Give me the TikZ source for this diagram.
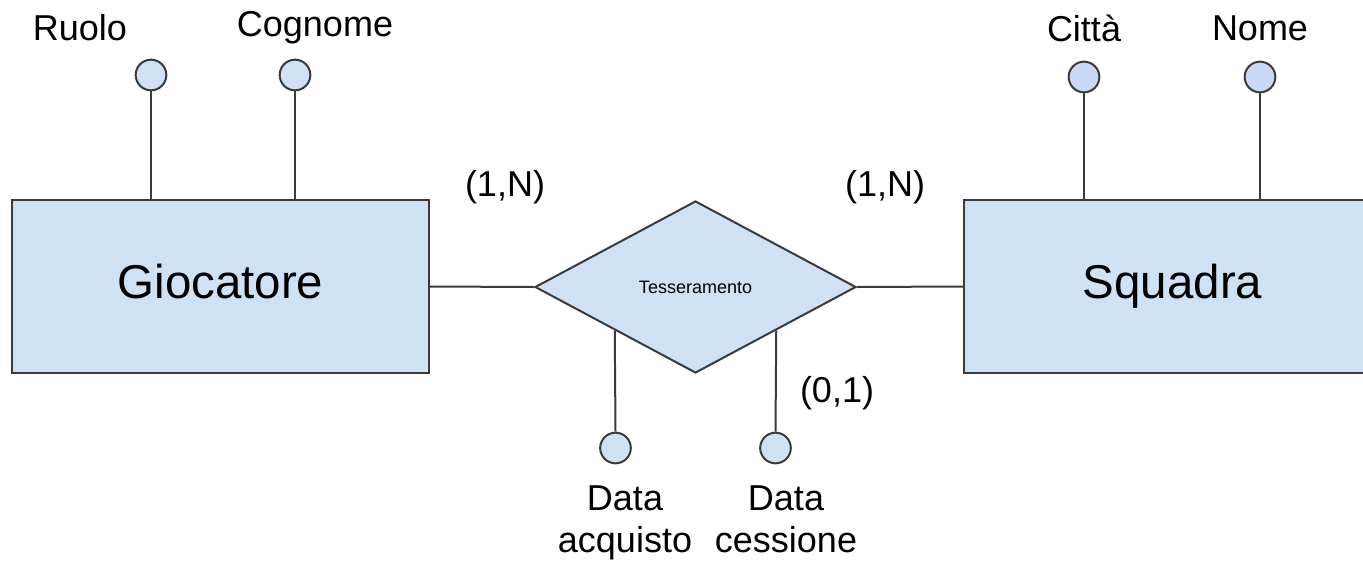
\documentclass[tikz,border=0pt]{standalone}
\usepackage{fontspec}
\setmainfont{Liberation Sans}
\usetikzlibrary{shapes.geometric}
\definecolor{erfill}{HTML}{CFE2F3}
\definecolor{erfillb}{HTML}{C9DAF8}
\definecolor{erline}{HTML}{3A3A3A}
\begin{document}
\begin{tikzpicture}[x=0.75pt,y=-0.75pt,
  entity/.style={draw=erline,line width=1.5pt,fill=erfill,minimum width=312.75pt,minimum height=129.75pt,inner sep=0pt,text height=25pt,text depth=7pt,font=\fontsize{35.6}{40}\selectfont},
  rel/.style={diamond,draw=erline,line width=1.5pt,fill=erfill,minimum width=240.75pt,minimum height=129pt,inner sep=0pt,font=\fontsize{13.5}{15}\selectfont},
  attr/.style={circle,draw=erline,line width=1.5pt,fill=erfill,minimum size=23pt,inner sep=0pt},
  attrb/.style={attr,fill=erfillb},
  lbl/.style={inner sep=0pt,font=\fontsize{27}{32}\selectfont},
  conn/.style={draw=erline,line width=1.5pt}]
\useasboundingbox (0,0) rectangle (1363,561);
\clip (0,0) rectangle (1363,561);
\node[entity] (gio) at (220.5,286.5) {Giocatore};
\node[entity] (squ) at (1172.5,286.5) {Squadra};
\node[rel] (tes) at (695.5,287) {Tesseramento};
% attribute circles
\node[attr] (ruolo) at (151,75) {};
\node[attr] (cogn) at (295,75) {};
\node[attrb] (citta) at (1084,77) {};
\node[attrb] (nome) at (1260,77) {};
\node[attr] (dacq) at (615.5,448) {};
\node[attr] (dces) at (775.5,448) {};
% attribute labels
\node[lbl] (ruoloL) at (80,28) {Ruolo};
\node[lbl] (cognL) at (315,28) {Cognome};
\node[lbl] (cittaL) at (1084,28) {Città};
\node[lbl] (nomeL) at (1260,28) {Nome};
\node[lbl,align=center,anchor=north] (dacqL) at (625,485) {Data\\acquisto};
\node[lbl,align=center,anchor=north] (dcesL) at (786,485) {Data\\cessione};
% cardinalities
\node[lbl] (c1) at (505,187) {(1,N)};
\node[lbl] (c2) at (885,187) {(1,N)};
\node[lbl] (c3) at (837,393) {(0,1)};
% connectors
\draw[conn] (gio.east) -- (tes.west);
\draw[conn] (tes.east) -- (squ.west);
\draw[conn] (ruolo.south) -- (ruolo.south |- gio.north);
\draw[conn] (cogn.south) -- (cogn.south |- gio.north);
\draw[conn] (citta.south) -- (citta.south |- squ.north);
\draw[conn] (nome.south) -- (nome.south |- squ.north);
\draw[conn] (tes.south west) -- (dacq.north);
\draw[conn] (tes.south east) -- (dces.north);
\end{tikzpicture}
\end{document}
